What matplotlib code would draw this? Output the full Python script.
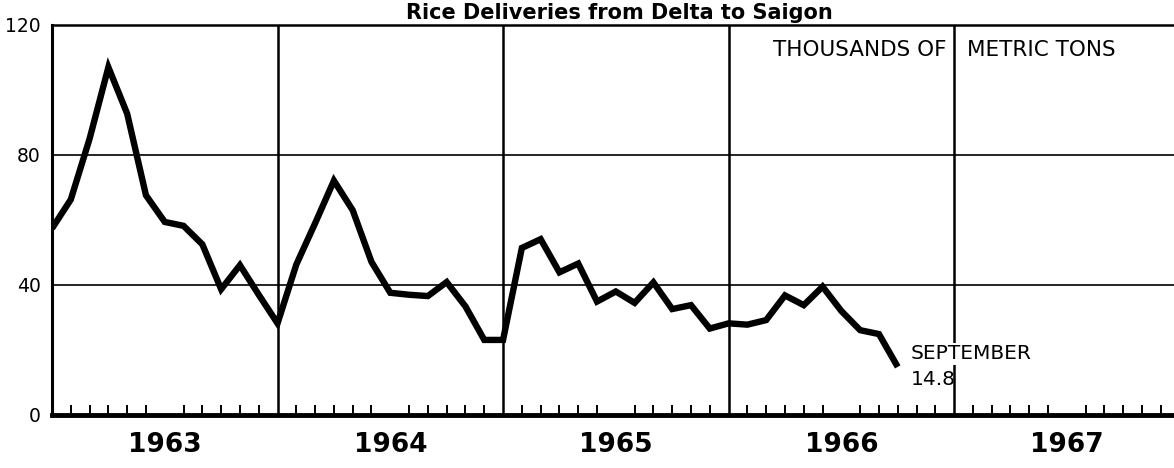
import matplotlib as mpl
mpl.use('Agg')
import matplotlib.pyplot as plt
import numpy as np
import pandas as pd

# monthly rice deliveries, thousands of metric tons (Dec 1962 .. Sep 1966)
months = pd.period_range('1962-12', '1966-09', freq='M')
deliveries = [57.4, 66.3, 85.0, 107.0, 92.7, 67.6, 59.4, 58.2, 52.5, 38.7, 46.1, 37.0,
              28.2, 46.3, 59.0, 72.1, 63.0, 47.1, 37.6, 37.0, 36.6, 40.9, 33.4, 23.1,
              23.1, 51.4, 54.1, 43.9, 46.6, 34.9, 38.0, 34.5, 40.8, 32.6, 33.8, 26.6,
              28.2, 27.8, 29.2, 36.8, 33.8, 39.5, 32.0, 26.1, 24.9, 14.8]
years = ['1963', '1964', '1965', '1966', '1967']
y_ticks = [0, 40, 80, 120]

# each value sits at the end of its month, counted from Jan 1963
x = np.array([(p.year - 1963) * 12 + p.month for p in months])

fig = plt.figure(figsize=(11.74, 4.68), dpi=100)
ax = fig.add_axes([52 / 1174, 53 / 468, 1122 / 1174, 390 / 468])

ax.set_xlim(0, 59.7)
ax.set_ylim(0, 120)

# grid: horizontal at 40/80, vertical at year boundaries
for v in y_ticks[1:-1]:
    ax.axhline(v, color='black', lw=1.2, zorder=1)
for i in range(1, len(years)):
    ax.axvline(12 * i, color='black', lw=1.8, zorder=1)

ax.plot(x, deliveries, color='black', lw=4.6, solid_joinstyle='miter',
        solid_capstyle='butt', zorder=3)

# axes frame
ax.spines['right'].set_visible(False)
ax.spines['top'].set_linewidth(1.8)
ax.spines['left'].set_linewidth(2.2)
ax.spines['bottom'].set_linewidth(3.5)

ax.set_yticks(y_ticks)
ax.set_yticklabels([str(v) for v in y_ticks], fontsize=13.5)
ax.tick_params(axis='y', length=0, pad=8)

month_ticks = [m for m in range(1, 60) if m % 12 != 0]
ax.set_xticks(month_ticks, minor=True)
ax.set_xticks([12 * i + 6 for i in range(len(years))])
ax.set_xticklabels(years, fontsize=19, fontweight='bold')
ax.tick_params(axis='x', which='major', length=0, pad=12)
ax.tick_params(axis='x', which='minor', direction='in', length=7, width=1.4)

ax.text(47.6, 112.3, 'THOUSANDS OF', ha='right', va='center', fontsize=15.5)
ax.text(48.7, 112.3, 'METRIC TONS', ha='left', va='center', fontsize=15.5)

ax.text(45.7, 18.8, 'SEPTEMBER', ha='left', va='center', fontsize=14.5,
        zorder=4, bbox=dict(facecolor='white', edgecolor='none', pad=1.0))
ax.text(45.7, 11.0, '14.8', ha='left', va='center', fontsize=14.5, zorder=4)

fig.text(0.528, 1 - 19 / 468, 'Rice Deliveries from Delta to Saigon', ha='center',
         va='baseline', fontsize=15, fontweight='bold')

fig.savefig('out.png', dpi=100)
plt.close(fig)
